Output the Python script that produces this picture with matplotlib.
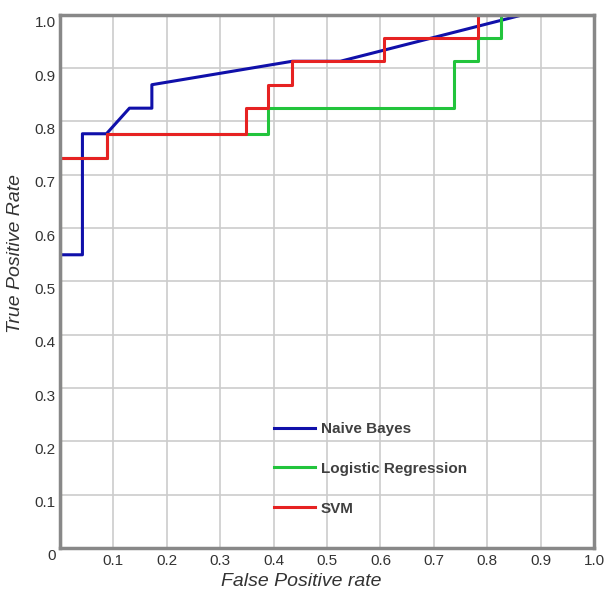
import numpy as np
import matplotlib as mpl
import matplotlib.pyplot as plt
import matplotlib.transforms as mtransforms

mpl.rcParams['font.family'] = ['Liberation Sans', 'DejaVu Sans']

# puntos de las curvas ROC
nb_fpr = [0, 0, 0.042, 0.042, 0.087, 0.130, 0.172, 0.172, 0.435, 0.525, 0.866, 1.0]
nb_tpr = [0, 0.55, 0.55, 0.777, 0.777, 0.825, 0.825, 0.869, 0.913, 0.913, 1.0, 1.0]

lr_fpr = [0, 0, 0.088, 0.088, 0.390, 0.390, 0.738, 0.738, 0.783, 0.783, 0.825, 0.825, 1.0]
lr_tpr = [0, 0.732, 0.732, 0.777, 0.777, 0.825, 0.825, 0.913, 0.913, 0.957, 0.957, 1.0, 1.0]

svm_fpr = [0, 0, 0.088, 0.088, 0.348, 0.348, 0.390, 0.390, 0.435, 0.435, 0.607, 0.607, 0.782, 0.782, 1.0]
svm_tpr = [0, 0.732, 0.732, 0.777, 0.777, 0.825, 0.825, 0.869, 0.869, 0.913, 0.913, 0.957, 0.957, 1.0, 1.0]

labels = ['Naive Bayes', 'Logistic Regression', 'SVM']
colors = ['#1010aa', '#22c43c', '#e62222']

ticks = np.round(np.arange(0, 1.01, 0.1), 1)
xtick_labels = [''] + ['%.1f' % t for t in ticks[1:]]
ytick_labels = ['0'] + ['%.1f' % t for t in ticks[1:]]

fig = plt.figure(figsize=(6.16, 5.95), dpi=100)
ax = fig.add_axes([0.0974, 0.079, 0.867, 0.896])

ax.plot(nb_fpr, nb_tpr, color=colors[0], lw=2.2, label=labels[0])
ax.plot(lr_fpr, lr_tpr, color=colors[1], lw=2.2, label=labels[1])
ax.plot(svm_fpr, svm_tpr, color=colors[2], lw=2.2, label=labels[2])

ax.set_xlim(0, 1)
ax.set_ylim(0, 1)
ax.set_xticks(ticks)
ax.set_yticks(ticks)
ax.set_xticklabels(xtick_labels)
ax.set_yticklabels(ytick_labels)
ax.tick_params(length=0, labelsize=11, colors='#333333')
ax.tick_params(axis='x', pad=4)
ax.tick_params(axis='y', pad=3)
# las etiquetas del eje y van un poco por debajo de la línea
off = mtransforms.ScaledTranslation(0, -7 / 100, fig.dpi_scale_trans)
for lab in ax.get_yticklabels():
    lab.set_transform(lab.get_transform() + off)

ax.grid(True, color='#cccccc', lw=1.2)
ax.set_axisbelow(True)
for s in ax.spines.values():
    s.set_color('#888888')
    s.set_linewidth(2.5)

ax.set_xlabel('False Positive rate', fontsize=14, style='italic', color='#333333')
ax.set_ylabel('True Positive Rate', fontsize=14, style='italic', color='#333333')
ax.xaxis.set_label_coords(0.451, -0.047)
ax.yaxis.set_label_coords(-0.067, 0.553)

ax.legend(loc='upper left', bbox_to_anchor=(0.4, 0.236), bbox_transform=ax.transData,
          frameon=False, borderpad=0, borderaxespad=0, handlelength=2.7,
          handletextpad=0.4, labelspacing=1.68,
          prop={'size': 11, 'weight': 'bold'}, labelcolor='#404040')

plt.savefig('out.png', dpi=100)
